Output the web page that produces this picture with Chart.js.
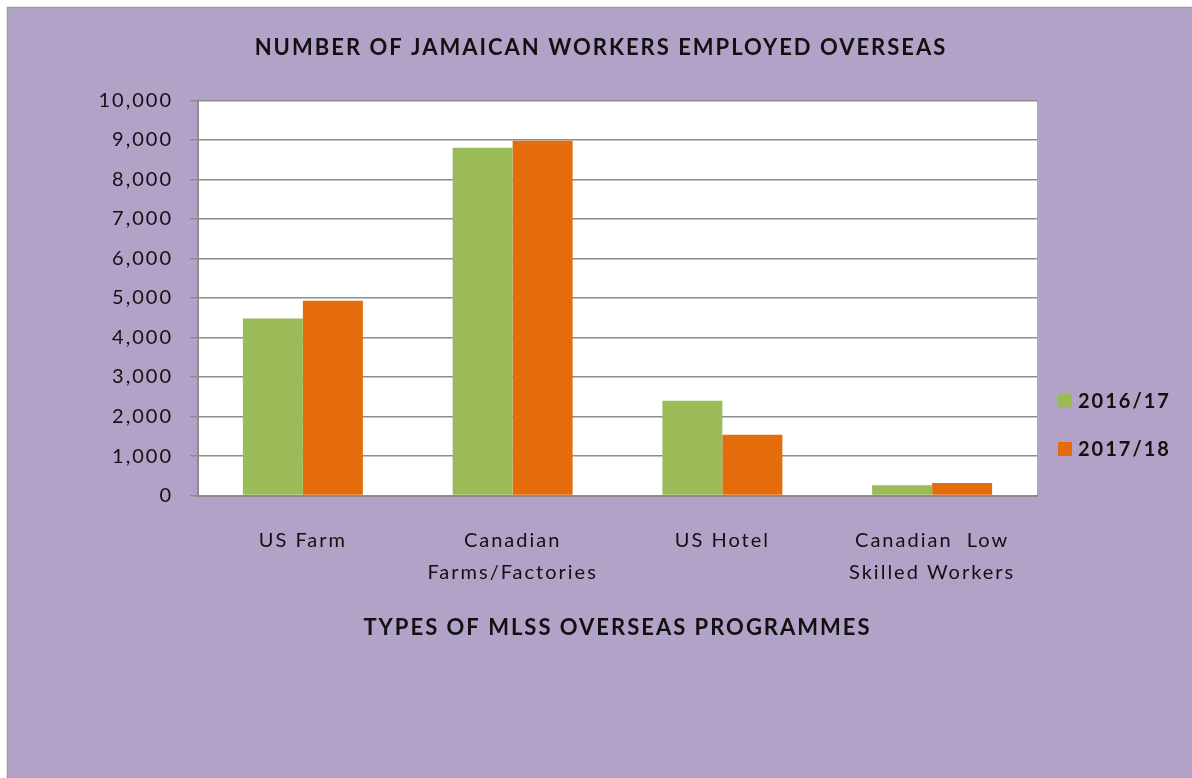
<!DOCTYPE html>
<html>
<head>
<meta charset="utf-8">
<script src="https://cdn.jsdelivr.net/npm/chart.js@4"></script>
<style>
  html, body { margin: 0; padding: 0; background: #ffffff; }
  canvas { display: block; }
</style>
</head>
<body>
<canvas id="workersChart" width="1192" height="778" style="width:1192px;height:778px"></canvas>
<script>
// Data
const programmes = [
    'US Farm',
    ['Canadian', 'Farms/Factories'],
    'US Hotel',
    ['Canadian  Low', 'Skilled Workers']
];
const seriesNames = ['2016/17', '2017/18'];
const workers2016 = [4480, 8800, 2400, 260];
const workers2017 = [4930, 8980, 1540, 320];
const yTicks = [0, 1000, 2000, 3000, 4000, 5000, 6000, 7000, 8000, 9000, 10000];

const PURPLE = '#B2A2C8';
const GREEN = '#9BBB59';
const ORANGE = '#E46C0A';
const GRID = '#8c8c8c';
const FONT = 'Lato, "Open Sans", sans-serif';

// Background, frame and white plot area
const backgroundPlugin = {
    id: 'background',
    beforeDraw(chart) {
        const ctx = chart.ctx;
        const area = chart.chartArea;
        ctx.save();
        ctx.fillStyle = '#ffffff';
        ctx.fillRect(0, 0, chart.width, chart.height);
        ctx.fillStyle = PURPLE;
        ctx.fillRect(8, 8, chart.width - 8, chart.height - 8);
        ctx.strokeStyle = '#9a9a9a';
        ctx.lineWidth = 1.5;
        ctx.beginPath();
        ctx.moveTo(7.5, chart.height);
        ctx.lineTo(7.5, 7.5);
        ctx.lineTo(chart.width, 7.5);
        ctx.stroke();
        ctx.fillStyle = '#ffffff';
        ctx.fillRect(area.left, area.top, area.right - area.left, area.bottom - area.top);
        ctx.restore();
        ctx.letterSpacing = '2px';
    }
};

// Legend on the right, drawn from the datasets
const sideLegend = {
    id: 'sideLegend',
    afterDraw(chart) {
        const ctx = chart.ctx;
        ctx.save();
        ctx.letterSpacing = '2px';
        ctx.font = 'bold 20px ' + FONT;
        ctx.textBaseline = 'middle';
        ctx.textAlign = 'left';
        chart.data.datasets.forEach((ds, i) => {
            const y = 401 + i * 48;
            ctx.fillStyle = ds.backgroundColor;
            ctx.fillRect(1058, y - 7, 14, 14);
            ctx.fillStyle = '#111111';
            ctx.fillText(ds.label, 1078, y + 1);
        });
        ctx.restore();
    }
};

new Chart(document.getElementById('workersChart'), {
    type: 'bar',
    data: {
        labels: programmes,
        datasets: [{
            label: seriesNames[0],
            data: workers2016,
            backgroundColor: GREEN,
            categoryPercentage: 0.572,
            barPercentage: 1.0
        }, {
            label: seriesNames[1],
            data: workers2017,
            backgroundColor: ORANGE,
            categoryPercentage: 0.572,
            barPercentage: 1.0
        }]
    },
    options: {
        responsive: false,
        animation: false,
        layout: {
            padding: { top: 0, left: 10, right: 0, bottom: 137 }
        },
        plugins: {
            legend: { display: false },
            tooltip: { enabled: false },
            title: {
                display: true,
                text: 'NUMBER OF JAMAICAN WORKERS EMPLOYED OVERSEAS',
                color: '#111111',
                font: { family: FONT, size: 22, weight: 'bold', lineHeight: 1.2 },
                padding: { top: 35, bottom: 39 }
            }
        },
        scales: {
            x: {
                grid: { display: false, drawTicks: false },
                border: { display: true, color: GRID, width: 2 },
                ticks: {
                    color: '#111111',
                    padding: 29,
                    maxRotation: 0,
                    font: { family: FONT, size: 20, lineHeight: 1.6 }
                },
                title: {
                    display: true,
                    text: 'TYPES OF MLSS OVERSEAS PROGRAMMES',
                    color: '#111111',
                    font: { family: FONT, size: 22, weight: 'bold', lineHeight: 1.2 },
                    padding: { top: -3, bottom: 0 }
                }
            },
            y: {
                min: 0,
                max: 10000,
                afterFit(scale) { scale.width = 188; },
                afterBuildTicks(scale) {
                    scale.ticks = yTicks.map(v => ({ value: v }));
                },
                grid: {
                    color: GRID,
                    lineWidth: 1.5,
                    tickLength: 8,
                    drawTicks: true
                },
                border: { display: true, color: GRID, width: 2 },
                ticks: {
                    color: '#111111',
                    padding: 17,
                    font: { family: FONT, size: 20 },
                    callback: v => v.toLocaleString('en-US')
                }
            },
            // empty right-hand axis that keeps room for the legend
            legendSpace: {
                type: 'linear',
                position: 'right',
                display: true,
                afterFit(scale) { scale.width = 155; },
                grid: { display: false, drawTicks: false },
                border: { display: false },
                ticks: { display: false }
            }
        }
    },
    plugins: [backgroundPlugin, sideLegend]
});
</script>
</body>
</html>
